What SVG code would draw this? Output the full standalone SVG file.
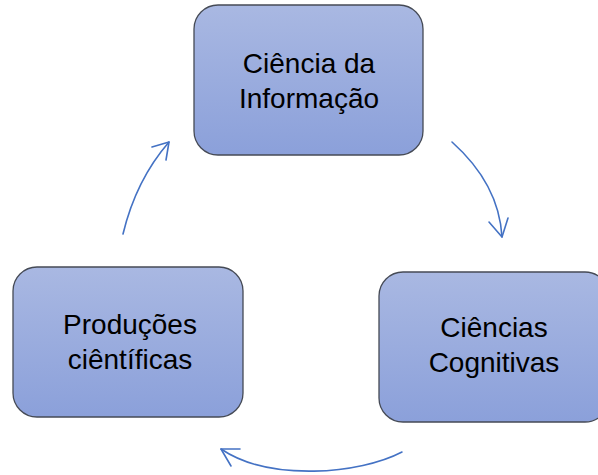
<svg xmlns="http://www.w3.org/2000/svg" width="598" height="475" viewBox="0 0 598 475">
  <defs>
    <linearGradient id="g" x1="0" y1="0" x2="0" y2="1">
      <stop offset="0" stop-color="#A9B8E2"/>
      <stop offset="1" stop-color="#8BA0DA"/>
    </linearGradient>
  </defs>
  <style>
    .box { fill: url(#g); stroke: #454a55; stroke-width: 1.3; }
    .lbl { font-family: "Liberation Sans", Arial, sans-serif; font-size: 28px; fill: #000; text-anchor: middle; }
    .arr { fill: none; stroke: #4472C4; stroke-width: 1.6; stroke-linecap: round; stroke-linejoin: round; }
  </style>
  <g id="connectors">
    <path class="arr" d="M452,142 Q499,184 502,237"/>
    <path class="arr" d="M489,222 L502,237 L508,218"/>
    <path class="arr" d="M402,452 C360,474 270,482 221,449"/>
    <path class="arr" d="M240,449 L221,449 L231,466"/>
    <path class="arr" d="M123,234 Q136,180 169,142"/>
    <path class="arr" d="M152,147 L169,142 L166,160"/>
  </g>
  <g id="node-ciencia-informacao">
    <rect class="box" x="194" y="5" width="229" height="150" rx="24" ry="24"/>
    <text class="lbl" x="309" y="73">Ciência da</text>
    <text class="lbl" x="309" y="108">Informação</text>
  </g>
  <g id="node-ciencias-cognitivas">
    <rect class="box" x="379" y="272" width="230" height="150" rx="24" ry="24"/>
    <text class="lbl" x="494" y="337">Ciências</text>
    <text class="lbl" x="494" y="372">Cognitivas</text>
  </g>
  <g id="node-producoes-cientificas">
    <rect class="box" x="13" y="267" width="230" height="150" rx="24" ry="24"/>
    <text class="lbl" x="130" y="334">Produções</text>
    <text class="lbl" x="130" y="369">ciêntíficas</text>
  </g>
</svg>
